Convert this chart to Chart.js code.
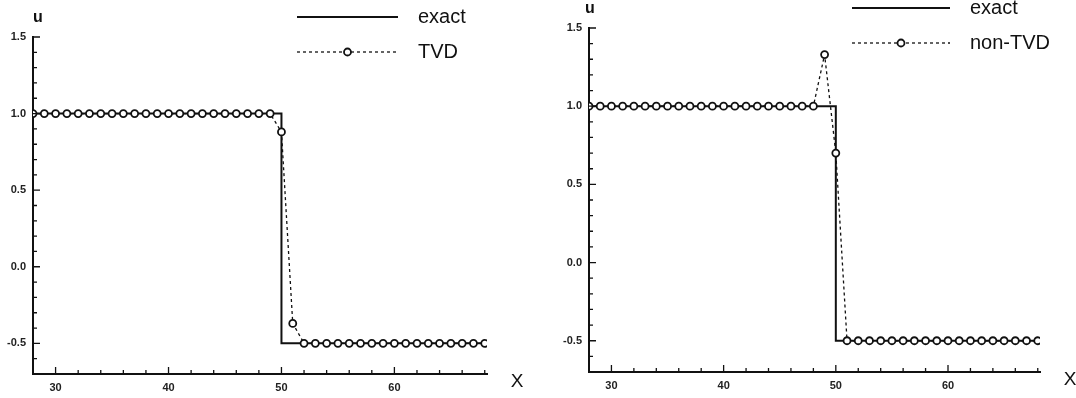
<!DOCTYPE html>
<html>
<head>
<meta charset="utf-8">
<script src="https://cdn.jsdelivr.net/npm/chart.js@4/dist/chart.umd.min.js"></script>
<style>
html, body { margin: 0; padding: 0; background: #fff; }
.panel { position: absolute; top: 0; width: 538px; height: 398px; }
</style>
</head>
<body>
<div class="panel" style="left:0"><canvas id="graficoTVD" width="538" height="398"></canvas></div>
<div class="panel" style="left:538px"><canvas id="graficoNoTVD" width="538" height="398"></canvas></div>
<script>
// nodos de la malla
const xNodos = [28, 29, 30, 31, 32, 33, 34, 35, 36, 37, 38, 39, 40, 41, 42, 43, 44, 45, 46, 47, 48,
    49, 50, 51, 52, 53, 54, 55, 56, 57, 58, 59, 60, 61, 62, 63, 64, 65, 66, 67, 68];

// solucion exacta (escalon)
const xExacta = [28, 50, 50, 68];
const uExacta = [1.0, 1.0, -0.5, -0.5];

// esquema TVD
const uTVD = [1, 1, 1, 1, 1, 1, 1, 1, 1, 1, 1, 1, 1, 1, 1, 1, 1, 1, 1, 1, 1,
    1, 0.88, -0.37, -0.5, -0.5, -0.5, -0.5, -0.5, -0.5, -0.5, -0.5, -0.5, -0.5, -0.5, -0.5, -0.5, -0.5, -0.5, -0.5, -0.5];

// esquema no TVD
const uNoTVD = [1, 1, 1, 1, 1, 1, 1, 1, 1, 1, 1, 1, 1, 1, 1, 1, 1, 1, 1, 1, 1,
    1.33, 0.70, -0.5, -0.5, -0.5, -0.5, -0.5, -0.5, -0.5, -0.5, -0.5, -0.5, -0.5, -0.5, -0.5, -0.5, -0.5, -0.5, -0.5, -0.5];

// marcas de los ejes
const ticksX = [30, 40, 50, 60];
const menoresX = [32, 34, 36, 38, 42, 44, 46, 48, 52, 54, 56, 58, 62, 64, 66, 68];
const ticksU = [-0.5, 0.0, 0.5, 1.0, 1.5];
const menoresU = [-0.6, -0.4, -0.3, -0.2, -0.1, 0.1, 0.2, 0.3, 0.4, 0.6, 0.7, 0.8, 0.9, 1.1, 1.2, 1.3, 1.4];

const FUENTE = '"Liberation Sans", Arial, sans-serif';

// marcas hacia dentro, etiquetas u / X y leyenda
const decoracion = {
    id: 'decoracion',
    afterDraw(chart, args, opts) {
        const { ctx, chartArea: a, scales: { x, y } } = chart;
        ctx.save();
        ctx.strokeStyle = '#111';
        ctx.lineWidth = 1.3;
        ctx.beginPath();
        ticksX.forEach(v => { const px = x.getPixelForValue(v); ctx.moveTo(px, a.bottom); ctx.lineTo(px, a.bottom - 7); });
        menoresX.forEach(v => { const px = x.getPixelForValue(v); ctx.moveTo(px, a.bottom); ctx.lineTo(px, a.bottom - 4); });
        ticksU.forEach(v => { const py = y.getPixelForValue(v); ctx.moveTo(a.left, py); ctx.lineTo(a.left + 7, py); });
        menoresU.forEach(v => { const py = y.getPixelForValue(v); ctx.moveTo(a.left, py); ctx.lineTo(a.left + 4, py); });
        ctx.stroke();

        ctx.fillStyle = '#111';
        ctx.textAlign = 'center';
        ctx.textBaseline = 'middle';
        ctx.font = 'bold 16px ' + FUENTE;
        ctx.fillText('u', a.left + opts.uDx, a.top - 19);
        ctx.font = '19px ' + FUENTE;
        ctx.fillText('X', a.right + 30, a.bottom + 8);

        // leyenda
        const L = opts.leyenda;
        ctx.font = '20px ' + FUENTE;
        ctx.textAlign = 'left';
        chart.data.datasets.forEach((ds, i) => {
            const yy = L.y + i * L.sep;
            ctx.save();
            ctx.strokeStyle = ds.borderColor;
            ctx.lineWidth = ds.borderWidth;
            ctx.setLineDash(ds.borderDash || []);
            ctx.beginPath();
            ctx.moveTo(L.x, yy);
            ctx.lineTo(L.x + L.largo, yy);
            ctx.stroke();
            ctx.restore();
            if (ds.pointRadius > 0) {
                ctx.beginPath();
                ctx.arc(L.x + L.largo / 2, yy, ds.pointRadius, 0, Math.PI * 2);
                ctx.fillStyle = '#fff';
                ctx.fill();
                ctx.lineWidth = ds.pointBorderWidth;
                ctx.strokeStyle = '#111';
                ctx.stroke();
            }
            ctx.fillStyle = '#111';
            ctx.fillText(ds.label, L.x + L.largo + 20, yy);
        });
        ctx.restore();
    }
};

function crearGrafico(id, valores, titulo, padding, leyenda, uDx) {
    const ctx = document.getElementById(id);
    return new Chart(ctx, {
        type: 'line',
        data: {
            datasets: [{
                label: 'exact',
                data: xExacta.map((v, i) => ({ x: v, y: uExacta[i] })),
                borderColor: '#111',
                borderWidth: 2,
                pointRadius: 0,
                order: 1
            }, {
                label: titulo,
                data: xNodos.map((v, i) => ({ x: v, y: valores[i] })),
                borderColor: '#111',
                borderWidth: 1.3,
                borderDash: [3, 3],
                pointRadius: 3.5,
                pointBorderWidth: 1.8,
                pointBackgroundColor: '#fff',
                pointBorderColor: '#111',
                order: 0
            }]
        },
        options: {
            responsive: false,
            devicePixelRatio: 1,
            animation: false,
            layout: { padding: padding },
            plugins: {
                legend: { display: false },
                tooltip: { enabled: false },
                decoracion: { leyenda: leyenda, uDx: uDx }
            },
            scales: {
                x: {
                    type: 'linear',
                    min: 28,
                    max: 68.2,
                    afterBuildTicks: s => { s.ticks = ticksX.map(v => ({ value: v })); },
                    afterFit: s => { s.height = 24; },
                    grid: { display: true, drawOnChartArea: false, drawTicks: false },
                    border: { color: '#111', width: 2 },
                    ticks: { color: '#222', padding: 7, font: { size: 11, weight: 'bold', family: FUENTE } }
                },
                y: {
                    type: 'linear',
                    min: -0.7,
                    max: 1.5,
                    afterBuildTicks: s => { s.ticks = ticksU.map(v => ({ value: v })); },
                    afterFit: s => { s.width = 28; },
                    grid: { display: true, drawOnChartArea: false, drawTicks: false },
                    border: { color: '#111', width: 2 },
                    ticks: {
                        color: '#222', padding: 7,
                        font: { size: 11, weight: 'bold', family: FUENTE },
                        callback: v => v.toFixed(1)
                    }
                }
            }
        },
        plugins: [decoracion]
    });
}

crearGrafico('graficoTVD', uTVD, 'TVD',
    { left: 5, top: 37, right: 51, bottom: 0 },
    { x: 297, y: 17, sep: 35, largo: 101 }, 5);

crearGrafico('graficoNoTVD', uNoTVD, 'non-TVD',
    { left: 23, top: 28, right: 36, bottom: 2 },
    { x: 314, y: 8, sep: 35, largo: 98 }, 1);
</script>
</body>
</html>
